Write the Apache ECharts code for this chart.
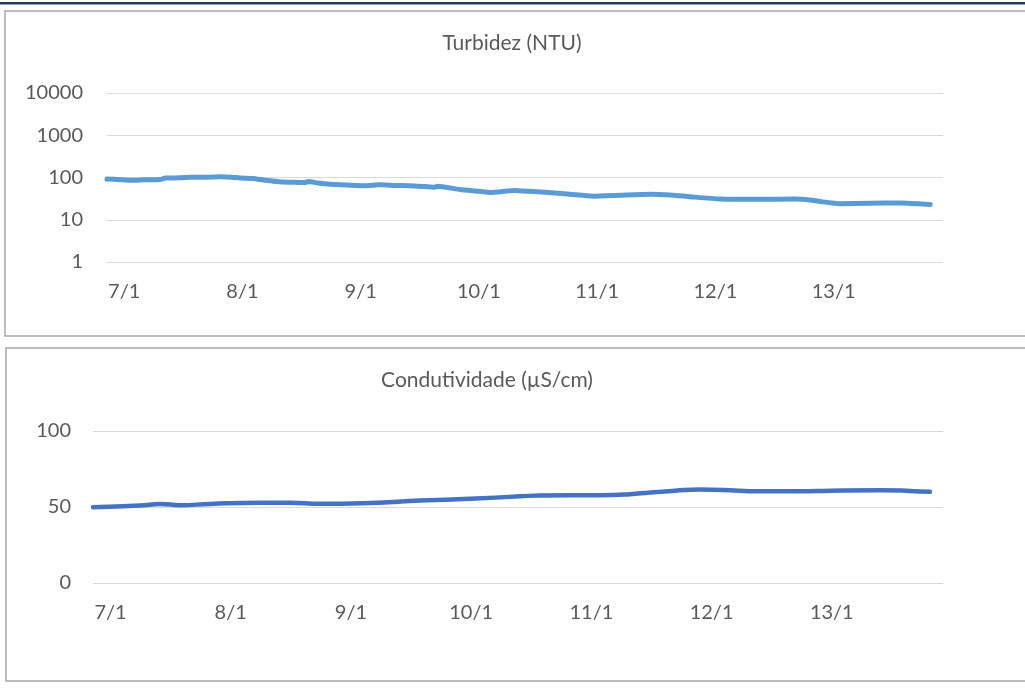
<!DOCTYPE html>
<html>
<head>
<meta charset="utf-8">
<script src="https://cdn.jsdelivr.net/npm/echarts@6/dist/echarts.min.js"></script>
<style>
html,body{margin:0;padding:0;background:#fff;}
#c{width:1025px;height:691px;}
</style>
</head>
<body>
<div id="c"></div>
<script>
// ---- data (x = hours since start of record) ----
const dayLabels = ["7/1","8/1","9/1","10/1","11/1","12/1","13/1"];
const dayLabelHours = [3.5, 27.5, 51.5, 75.5, 99.5, 123.5, 147.5];

const turbHours = [0,2.6,4.7,7.7,10.8,11.8,14.8,16.9,19.9,22.9,25.4,27.0,29.6,32.1,35.7,38.2,40.2,40.8,43.2,47.3,52.4,55.4,58.5,61.5,64.6,66.6,67.0,71.7,75.7,77.8,82.8,85.9,88.9,94.0,98.7,104.2,110.3,114.3,118.4,124.5,132.6,139.7,142.7,144.8,148.8,154.9,161.0,167.1];
const turbValues = [92,89,86,88,90,97,98,102,101,104,102,97,95,86,78,77,76,80,73,67,64,67,65,64,61,59,62,52,47,44,49,47,45,40,36,38,40,38.5,35,31,30.5,31,29.5,27,24,24.5,25,23];

const condHours = [0,9.4,13.4,17.4,23.4,33.3,39.3,45.3,55.3,65.3,75.3,85.3,89.3,101.2,107.2,111.2,116.2,121.2,127.2,131.2,141.2,147.2,157.1,163.1,167.1];
const condValues = [49.8,51.0,52.0,51.2,52.0,52.8,52.8,52.1,52.7,54.2,55.4,57.0,57.6,57.7,58.4,59.6,60.7,61.5,61.1,60.4,60.3,60.7,61.0,60.6,60.0];

const turbTicks = [1,10,100,1000,10000];
const condTicks = [0,50,100];

const titles = ["Turbidez (NTU)", "Condutividade (µS/cm)"];

// ---- chart ----
const FONT = "Lato";
const TXT = "#595959";
const GRID = "#D9D9D9";

const chart = echarts.init(document.getElementById('c'), null, {renderer:'canvas'});

function pairs(xs, ys){ return xs.map((x,i)=>[x, ys[i]]); }

function xAxisCfg(gi){
  return {
    type:'value', gridIndex:gi, min:0, max:169.7,
    axisLine:{show:false}, axisTick:{show:false}, splitLine:{show:false},
    axisLabel:{
      customValues: dayLabelHours,
      formatter:(v)=>{ const i = dayLabelHours.indexOf(v); return i>=0 ? dayLabels[i] : ''; },
      color:TXT, fontFamily:FONT, fontSize:20, margin:20
    }
  };
}

const option = {
  animation:false,
  backgroundColor:'#fff',
  graphic:[
    {type:'rect', shape:{x:0,y:2,width:1025,height:2.5}, style:{fill:'#1F3864'}, silent:true},
    {type:'rect', shape:{x:5,y:11,width:1030,height:325}, style:{fill:'none',stroke:'#A6A6A6',lineWidth:1.5}, silent:true},
    {type:'rect', shape:{x:6,y:348,width:1030,height:333}, style:{fill:'none',stroke:'#A6A6A6',lineWidth:1.5}, silent:true}
  ],
  title:[
    {text:titles[0], left:507, top:28, textAlign:'center',
     textStyle:{color:TXT, fontFamily:FONT, fontSize:21, fontWeight:'normal'}},
    {text:titles[1], left:482, top:365, textAlign:'center',
     textStyle:{color:TXT, fontFamily:FONT, fontSize:21, fontWeight:'normal'}}
  ],
  grid:[
    {left:107, right:82, top:93, bottom:429},
    {left:93, right:82, top:431, bottom:108}
  ],
  xAxis:[ xAxisCfg(0), xAxisCfg(1) ],
  yAxis:[
    {type:'log', logBase:10, gridIndex:0, min:turbTicks[0], max:turbTicks[turbTicks.length-1],
     axisLine:{show:false}, axisTick:{show:false},
     splitLine:{lineStyle:{color:GRID, width:1}},
     axisLabel:{color:TXT, fontFamily:FONT, fontSize:20, margin:24, formatter:(v)=>String(Math.round(v))}},
    {type:'value', gridIndex:1, min:condTicks[0], max:condTicks[condTicks.length-1], interval:50,
     axisLine:{show:false}, axisTick:{show:false},
     splitLine:{lineStyle:{color:GRID, width:1}},
     axisLabel:{color:TXT, fontFamily:FONT, fontSize:20, margin:22}}
  ],
  series:[
    {type:'line', xAxisIndex:0, yAxisIndex:0, data:pairs(turbHours, turbValues),
     showSymbol:false, smooth:0.2, lineStyle:{color:'#5B9BD5', width:5, cap:'round', join:'round'}},
    {type:'line', xAxisIndex:1, yAxisIndex:1, data:pairs(condHours, condValues),
     showSymbol:false, smooth:0.5, lineStyle:{color:'#4472C4', width:4.5, cap:'round', join:'round'}}
  ]
};
chart.setOption(option);
</script>
</body>
</html>
